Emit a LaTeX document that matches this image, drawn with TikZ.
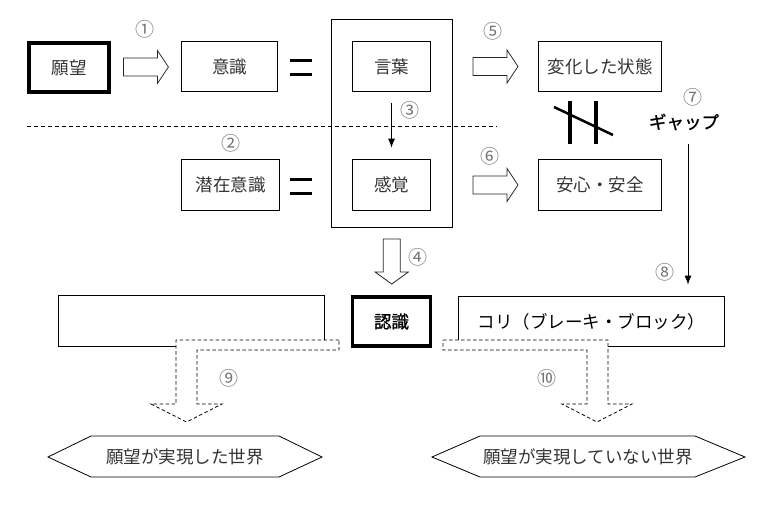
\documentclass[tikz,border=0pt]{standalone}
\usepackage{fontspec}
\setmainfont{Noto Sans CJK JP}
\newfontfamily\jpmed[FakeBold=1.2]{Noto Sans CJK JP}
\usetikzlibrary{arrows.meta,calc}
\tikzset{
  pics/harrow/.style={code={\draw[blockarrow] (-22.5,-9) -- (11.5,-9) -- (11.5,-16.5) -- (22.5,0) -- (11.5,16.5) -- (11.5,9) -- (-22.5,9) -- cycle;}},
  pics/varrow/.style={code={\draw[blockarrow] (-8.5,-22.5) -- (-8.5,10.5) -- (-16.5,10.5) -- (0,22.5) -- (16.5,10.5) -- (8.5,10.5) -- (8.5,-22.5) -- cycle;}}
}
\begin{document}
\begin{tikzpicture}[x=1pt,y=-1pt,
  txt/.style={font=\fontsize{17.5}{20}\selectfont, text=black!80},
  box/.style={draw, line width=0.8pt, inner sep=0pt, txt},
  thickbox/.style={box, line width=3.5pt},
  num/.style={font=\fontsize{19}{20}\selectfont, text=black!55, inner sep=0pt},
  barline/.style={line width=3.5pt},
  blockarrow/.style={draw=black!85, line width=0.8pt, fill=white, line join=miter},
  dasharrow/.style={draw, line width=0.8pt, fill=white, dash pattern=on 3.5pt off 2.5pt},
  thinarrow/.style={-{Latex[length=9pt,width=7pt]}, line width=0.8pt},
]
\useasboundingbox (0,0) rectangle (775,511);
% dashed separator
\draw[line width=0.8pt, dash pattern=on 4pt off 3pt] (27,126) -- (497,126);
% boxes
\node[thickbox, minimum width=80, minimum height=49] (ganbou) at (69,67.5) {願望};
\node[box, minimum width=96, minimum height=50] (ishiki) at (229.5,66.5) {意識};
\node[draw, line width=0.8pt, minimum width=121, minimum height=208, inner sep=0pt] (frame) at (392,123.5) {};
\node[box, fill=white, minimum width=78, minimum height=50] (kotoba) at (391.5,66.5) {言葉};
\node[box, fill=white, minimum width=78, minimum height=51] (kankaku) at (391.5,185) {感覚};
\node[box, minimum width=98, minimum height=51] (senzai) at (230.5,185) {潜在意識};
\node[box, minimum width=123, minimum height=50] (henka) at (600,66.5) {変化した状態};
\node[box, minimum width=123, minimum height=51] (anshin) at (600,185) {安心・安全};
\node[txt, text=black, inner sep=1pt] (gap) at (684,122) {\jpmed ギャップ};
\node[box, minimum width=266, minimum height=51] (empty) at (191.5,321) {};
\node[thickbox, text=black, minimum width=78, minimum height=49] (ninshiki) at (391.5,321.5) {\jpmed 認識};
\node[box, text=black, minimum width=266, minimum height=50] (kori) at (591.5,321.5) {コリ（ブレーキ・ブロック）};
% block arrows
\pic at ($(ganbou.east)!0.5!(ishiki.west)$) {harrow};
\pic at ($(frame.east |- kotoba.east)!0.5!(henka.west)$) {harrow};
\pic at ($(frame.east |- kankaku.east)!0.5!(anshin.west)$) {harrow};
\pic at ($(frame.south)!0.5!(ninshiki.north)$) {varrow};
% equal signs
\draw[barline] (290,60.5) -- (312,60.5);
\draw[barline] (290,74.5) -- (312,74.5);
\draw[barline] (290,179.5) -- (312,179.5);
\draw[barline] (290,193.5) -- (312,193.5);
% not equal
\draw[barline] (570,101) -- (570,144);
\draw[barline] (596,101) -- (596,144);
\draw[line width=2.5pt] (554,107) -- (613,135);
% thin arrows
\draw[thinarrow, shorten <=11.5pt, shorten >=11.5pt] (kotoba) -- (kankaku);
\coordinate (gs) at (688,144);
\draw[thinarrow, shorten >=11.5pt] (gs) -- (gs |- kori.north);
% dashed L arrows
\draw[dasharrow] (339,340) -- (176,340) -- (176,404) -- (151,404) -- (186.5,422) -- (222,404) -- (197,404) -- (197,350) -- (339,350) -- cycle;
\draw[dasharrow] (443,340) -- (608,340) -- (608,404) -- (632,404) -- (597,422) -- (562,404) -- (587,404) -- (587,350) -- (443,350) -- cycle;
% hexagons
\node[txt, inner sep=0pt] (w1) at (185,457) {願望が実現した世界};
\draw[line width=0.8pt] (48,457) -- (91,436) -- (279,436) -- (322,457) -- (279,477) -- (91,477) -- cycle;
\node[txt, inner sep=0pt] (w2) at (588,457) {願望が実現していない世界};
\draw[line width=0.8pt] (432,457) -- (480,436) -- (695,436) -- (745,457) -- (695,477) -- (480,477) -- cycle;
% numbers
\node[num] (n1) at (145,29) {①};
\node[num] (n2) at (231,143) {②};
\node[num] (n3) at (410,110) {③};
\node[num] (n4) at (418,257) {④};
\node[num] (n5) at (493,31) {⑤};
\node[num] (n6) at (490,156) {⑥};
\node[num] (n7) at (693,97) {⑦};
\node[num] (n8) at (665,272) {⑧};
\node[num] (n9) at (229,378) {⑨};
\node[num] (n10) at (547,378) {⑩};
\end{tikzpicture}
\end{document}
